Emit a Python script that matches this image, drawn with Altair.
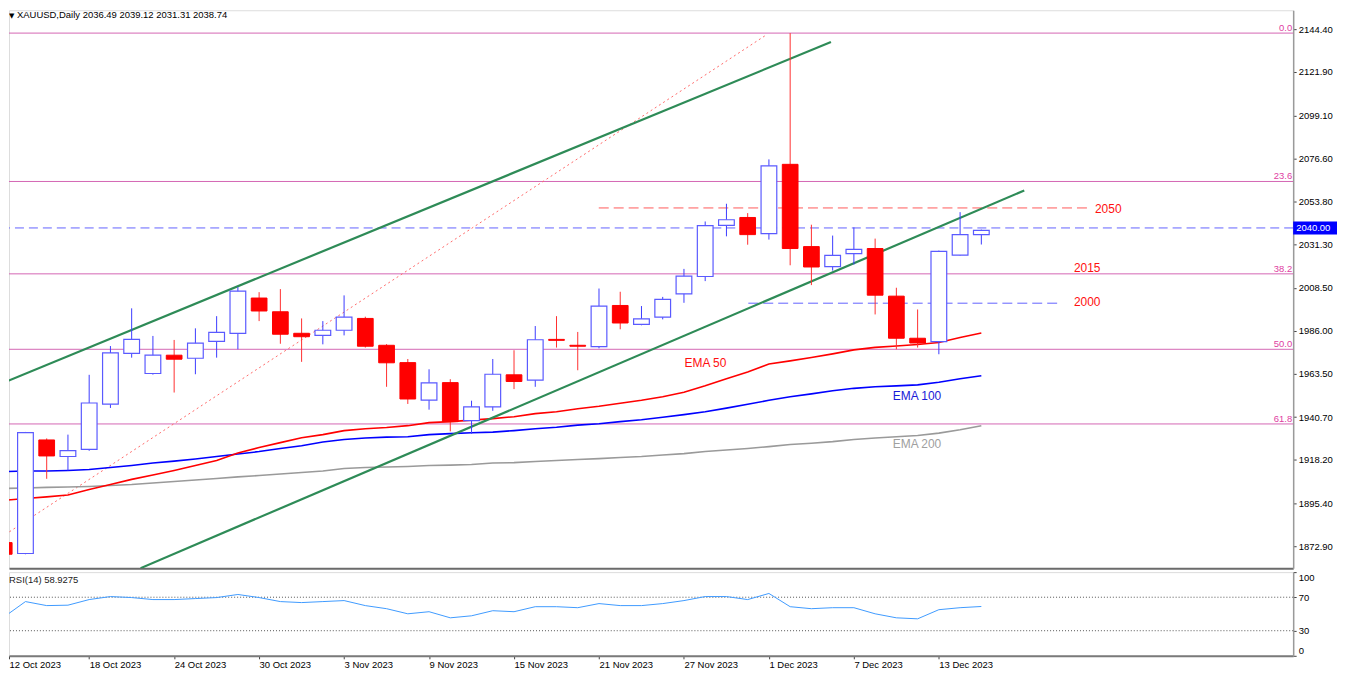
import json
import altair as alt
import pandas as pd

# ---------------- data ----------------
tick_labels = ["12 Oct 2023", "18 Oct 2023", "24 Oct 2023", "30 Oct 2023", "3 Nov 2023",
               "9 Nov 2023", "15 Nov 2023", "21 Nov 2023", "27 Nov 2023", "1 Dec 2023",
               "7 Dec 2023", "13 Dec 2023"]
tick_index = [0, 4, 8, 12, 16, 20, 24, 28, 32, 36, 40, 44]

opens = [1874.8, 1869.1, 1928.7, 1920.0, 1923.8, 1947.5, 1974.2, 1963.6, 1973.2, 1971.6,
         1980.5, 1984.7, 2003.2, 1996.0, 1984.7, 1983.6, 1986.3, 1992.5, 1978.4, 1969.3,
         1949.6, 1958.8, 1938.8, 1946.1, 1962.9, 1960.1, 1981.5, 1978.4, 1977.7, 1999.3,
         1989.4, 1993.2, 2005.4, 2014.5, 2041.4, 2045.5, 2037.0, 2073.4, 2030.2, 2019.7,
         2026.5, 2029.2, 2004.2, 1982.1, 1980.3, 2025.7, 2036.49]
highs = [1885.1, 1932.9, 1929.5, 1931.5, 1962.9, 1978.0, 1997.8, 1983.3, 1981.2, 1987.3,
         1993.7, 2008.9, 2006.3, 2007.9, 1992.5, 1991.1, 2004.6, 1993.4, 1979.0, 1971.2,
         1965.8, 1960.6, 1949.3, 1971.2, 1975.8, 1988.5, 1993.7, 1985.4, 2008.2, 2006.5,
         1999.0, 2003.8, 2018.5, 2043.4, 2052.7, 2047.8, 2076.0, 2142.3, 2041.7, 2036.0,
         2040.3, 2034.4, 2008.6, 1997.2, 2028.1, 2048.3, 2039.12]
lows = [1868.0, 1868.7, 1908.3, 1912.7, 1923.0, 1945.5, 1971.9, 1963.0, 1953.6, 1963.2,
        1971.9, 1976.3, 1991.1, 1979.2, 1969.7, 1978.9, 1983.6, 1977.2, 1956.6, 1947.6,
        1944.6, 1933.2, 1931.9, 1944.0, 1955.4, 1956.6, 1977.2, 1965.3, 1976.8, 1986.8,
        1988.9, 1992.0, 2000.7, 2012.1, 2035.6, 2031.2, 2033.9, 2020.4, 2010.0, 2017.6,
        2020.8, 1994.6, 1976.3, 1977.2, 1973.7, 2025.5, 2031.31]
closes = [1868.7, 1932.5, 1920.3, 1923.1, 1948.1, 1974.4, 1981.5, 1973.2, 1971.1, 1979.5,
          1985.2, 2006.8, 1996.4, 1984.2, 1982.9, 1986.3, 1993.2, 1977.9, 1969.2, 1950.2,
          1958.7, 1938.3, 1946.1, 1963.2, 1959.4, 1981.3, 1981.0, 1977.9, 1999.0, 1990.1,
          1992.3, 2002.5, 2014.7, 2041.2, 2044.3, 2036.5, 2072.6, 2029.2, 2019.5, 2025.6,
          2028.8, 2004.7, 1982.1, 1979.6, 2027.7, 2036.5, 2038.74]

ema50 = [1897.0, 1898.0, 1898.8, 1899.8, 1902.7, 1905.3, 1908.0, 1910.3, 1912.7, 1915.3,
         1917.9, 1921.8, 1924.7, 1927.3, 1929.9, 1931.5, 1933.6, 1934.6, 1935.2, 1936.2,
         1937.8, 1938.3, 1939.1, 1939.9, 1940.9, 1942.5, 1943.5, 1945.1, 1946.4, 1948.0,
         1949.5, 1951.4, 1953.7, 1957.1, 1960.8, 1964.4, 1968.6, 1970.2, 1972.0, 1973.9,
         1976.0, 1977.3, 1978.0, 1978.8, 1979.9, 1982.5, 1984.8]
ema100 = [1912.1, 1912.4, 1912.4, 1912.7, 1913.2, 1914.2, 1915.3, 1916.6, 1917.6, 1918.7,
          1920.0, 1921.3, 1922.6, 1924.2, 1925.7, 1927.6, 1928.9, 1929.7, 1930.2, 1930.4,
          1931.5, 1932.0, 1932.5, 1932.8, 1933.6, 1934.6, 1935.4, 1936.5, 1937.2, 1938.3,
          1939.3, 1940.6, 1942.0, 1943.5, 1945.4, 1947.4, 1949.5, 1951.4, 1952.9, 1954.5,
          1955.8, 1956.6, 1957.1, 1957.6, 1959.0, 1960.8, 1962.4]
ema200 = [1903.2, 1903.5, 1903.8, 1904.0, 1904.3, 1904.8, 1905.3, 1906.1, 1906.9, 1907.7,
          1908.5, 1909.3, 1910.0, 1910.8, 1911.6, 1912.4, 1913.7, 1914.2, 1914.5, 1914.8,
          1915.3, 1915.5, 1915.8, 1916.6, 1916.8, 1917.4, 1917.9, 1918.4, 1918.9, 1919.5,
          1920.0, 1920.8, 1921.5, 1922.6, 1923.4, 1924.2, 1925.2, 1926.3, 1927.0, 1927.8,
          1928.9, 1929.7, 1930.4, 1931.0, 1932.3, 1934.1, 1936.2]

rsi = [46.6, 64.8, 60.0, 60.5, 67.2, 70.8, 69.6, 67.2, 67.2, 68.4,
       69.6, 73.3, 69.6, 64.8, 63.6, 64.8, 66.0, 60.0, 56.3, 50.2,
       52.7, 45.4, 47.8, 53.9, 52.7, 58.7, 58.7, 57.5, 62.4, 60.0,
       60.0, 62.4, 66.0, 70.8, 70.8, 67.2, 74.5, 58.7, 56.3, 57.5,
       57.5, 50.2, 45.4, 44.2, 55.1, 57.5, 58.93]
rsi_levels = [70, 30]
rsi_ticks = [0, 30, 70, 100]

price_ticks = [2144.40, 2121.90, 2099.10, 2076.60, 2053.80, 2031.30, 2008.50, 1986.00,
               1963.50, 1940.70, 1918.20, 1895.40, 1872.90]

fib_levels = [2142.3, 2064.4, 2015.9, 1976.3, 1937.1]
fib_names = ["0.0", "23.6", "38.2", "50.0", "61.8"]

# trend lines: (bar index, price)
upper_x = [-0.15, 38.92]
upper_p = [1958.2, 2137.6]
lower_x = [6.42, 48.02]
lower_p = [1861.4, 2059.7]
diag_x = [-0.15, 35.87]
diag_p = [1877.6, 2141.3]

level_2040 = [2040.0]
seg_red_x = [27.99, 50.98]
seg_red_p = 2050.5
seg_blue_x = [35.03, 49.80]
seg_blue_p = 2000.5

note_text = ["2050", "2015", "2000", "EMA 50", "EMA 100", "EMA 200"]
note_x = [51.35, 50.36, 50.36, 32.03, 41.83, 41.83]
note_p = [2050.2, 2018.9, 2001.1, 1969.2, 1951.9, 1926.8]
note_color = ["#ff1010", "#ff1010", "#ff1010", "#ff1010", "#1a1ad8", "#a0a0a0"]

title_text = "XAUUSD,Daily  2036.49 2039.12 2031.31 2038.74"
rsi_text = "RSI(14) 58.9275"
last_price = ["2040.00"]

# ---------------- layout ----------------
W, H, H2 = 1289, 560, 84
X_MIN, X_MAX = 0.225, 60.68
Y_MIN, Y_MAX = 1861.4, 2154.3
FONT = "Liberation Sans"

xs = alt.Scale(domain=[X_MIN, X_MAX], nice=False, zero=False)
ys = alt.Scale(domain=[Y_MIN, Y_MAX], nice=False, zero=False)
rs = alt.Scale(domain=[0, 100], nice=False, zero=False)

price_xaxis = alt.Axis(labels=False, ticks=False, grid=False, title=None,
                       domainColor="#6b6b6b", domainWidth=2)
price_yaxis = alt.Axis(orient="right", values=price_ticks, format=".2f", grid=False, title=None,
                       domainColor="#9a9a9a", domainWidth=1.5, tickColor="#444", tickSize=3,
                       labelPadding=2, labelFontSize=9.5, labelColor="#000", labelFont=FONT,
                       labelOverlap=False, labelBound=False)
xvals = [max(v, X_MIN) for v in tick_index]
rsi_xaxis = alt.Axis(values=xvals, labelExpr=json.dumps(tick_labels) + "[round(datum.value/4)]",
                     labelAlign="left", labelBaseline="top", labelPadding=1, tickSize=3,
                     tickColor="#444", domainColor="#7a7a7a", domainWidth=2, grid=False,
                     title=None, labelFontSize=9.5, labelColor="#000", labelFont=FONT,
                     labelOverlap=False, labelFlush=False, labelBound=False)
rsi_yaxis = alt.Axis(orient="right", values=rsi_ticks, grid=False, title=None,
                     domainColor="#9a9a9a", domainWidth=1.5, tickSize=3, tickColor="#444",
                     labelPadding=2, labelFontSize=9.5, labelFlush=True, labelColor="#000",
                     labelFont=FONT)


def X(f):
    return alt.X(f, type="quantitative", scale=xs, axis=price_xaxis)


def Y(f):
    return alt.Y(f, type="quantitative", scale=ys, axis=price_yaxis)


n = len(opens)
cdf = pd.DataFrame({"i": list(range(n)), "open": opens, "high": highs, "low": lows,
                    "close": closes})
edf = pd.DataFrame({"i": list(range(n)), "e50": ema50, "e100": ema100, "e200": ema200,
                    "rsi": rsi})

layers = []

# fib levels
fdf = pd.DataFrame({"level": fib_levels, "name": fib_names})
layers.append(alt.Chart(fdf).mark_rule(color="#d466b4", strokeWidth=1).encode(y=Y("level")))
layers.append(alt.Chart(fdf).mark_text(align="right", baseline="bottom", fontSize=9.5,
                                       font=FONT, color="#e0409f")
              .encode(x=alt.value(W - 1), y=Y("level"), text="name:N"))

# horizontal dashed levels
layers.append(alt.Chart(pd.DataFrame({"v": level_2040}))
              .mark_rule(color="#6262ff", strokeDash=[9, 5], strokeWidth=1).encode(y=Y("v")))
layers.append(alt.Chart(pd.DataFrame({"x": [seg_red_x[0]], "x2": [seg_red_x[1]], "v": [seg_red_p]}))
              .mark_rule(color="#ff5a5a", strokeDash=[10, 5], strokeWidth=1)
              .encode(x=X("x"), x2="x2:Q", y=Y("v")))
layers.append(alt.Chart(pd.DataFrame({"x": [seg_blue_x[0]], "x2": [seg_blue_x[1]], "v": [seg_blue_p]}))
              .mark_rule(color="#6262ff", strokeDash=[10, 5], strokeWidth=1)
              .encode(x=X("x"), x2="x2:Q", y=Y("v")))

# dotted fib connector
layers.append(alt.Chart(pd.DataFrame({"x": diag_x, "p": diag_p}))
              .mark_line(color="#ff6a6a", strokeDash=[2, 3], strokeWidth=1, clip=True)
              .encode(x=X("x"), y=Y("p")))

# EMA lines
for col, colr in [("e200", "#9a9a9a"), ("e100", "#0000ff"), ("e50", "#ff0000")]:
    layers.append(alt.Chart(edf).mark_line(color=colr, strokeWidth=1.6, clip=True)
                  .encode(x=X("i"), y=Y(col)))

# green channel lines
for xx, pp in [(upper_x, upper_p), (lower_x, lower_p)]:
    layers.append(alt.Chart(pd.DataFrame({"x": xx, "p": pp}))
                  .mark_line(color="#2e8b57", strokeWidth=2.2, clip=True)
                  .encode(x=X("x"), y=Y("p")))

# annotations
for t, xx, pp, cc in zip(note_text, note_x, note_p, note_color):
    layers.append(alt.Chart(pd.DataFrame({"x": [xx], "p": [pp], "t": [t]}))
                  .mark_text(align="left", baseline="middle", fontSize=12, font=FONT, color=cc)
                  .encode(x=X("x"), y=Y("p"), text="t:N"))

# candles
base = alt.Chart(cdf).transform_calculate(
    lo="min(datum.open, datum.close)", hi="max(datum.open, datum.close)",
    x0="datum.i - 0.37", x1="datum.i + 0.37")
up = base.transform_filter("datum.close >= datum.open")
dn = base.transform_filter("datum.close < datum.open")
layers.append(up.mark_rule(color="#3c3cff", strokeWidth=1, clip=True)
              .encode(x=X("i"), y=Y("low"), y2="high:Q"))
layers.append(dn.mark_rule(color="#ff3030", strokeWidth=1, clip=True)
              .encode(x=X("i"), y=Y("low"), y2="high:Q"))
layers.append(up.mark_rect(fill="#ffffff", stroke="#5a5aff", strokeWidth=1.2, clip=True)
              .encode(x=X("x0"), x2="x1:Q", y=Y("lo"), y2="hi:Q"))
layers.append(dn.mark_rect(fill="#ff0000", stroke="#ff0000", strokeWidth=1, clip=True)
              .encode(x=X("x0"), x2="x1:Q", y=Y("lo"), y2="hi:Q"))

# title
layers.append(alt.Chart(pd.DataFrame({"t": ["\u25bc"]}))
              .mark_text(align="left", baseline="top", fontSize=7, font="DejaVu Sans",
                         color="#000", clip=True)
              .encode(x=alt.value(0), y=alt.value(2), text="t:N"))
layers.append(alt.Chart(pd.DataFrame({"t": [title_text]}))
              .mark_text(align="left", baseline="top", fontSize=9.5, font=FONT, color="#000",
                         clip=True)
              .encode(x=alt.value(8), y=alt.value(0), text="t:N"))

# last price box on axis
pb = pd.DataFrame({"v": level_2040, "t": last_price})
layers.append(alt.Chart(pb).mark_point(shape="M-1,-0.3H1V0.3H-1Z", size=44 * 44, filled=True,
                                       color="#0000ff", opacity=1, strokeWidth=0)
              .encode(x=alt.value(W + 22), y=Y("v")))
layers.append(alt.Chart(pb).mark_text(align="left", baseline="middle", fontSize=9.5, font=FONT,
                                      color="#ffffff")
              .encode(x=alt.value(W + 3), y=Y("v"), text="t:N"))

price = alt.layer(*layers).properties(width=W, height=H)

# ---------------- RSI panel ----------------
def XR(f):
    return alt.X(f, type="quantitative", scale=xs, axis=rsi_xaxis)


def YR(f):
    return alt.Y(f, type="quantitative", scale=rs, axis=rsi_yaxis)


rl = alt.Chart(pd.DataFrame({"v": rsi_levels})).mark_rule(
    color="#555555", strokeDash=[1, 2], strokeWidth=1).encode(y=YR("v"))
rline = alt.Chart(edf).mark_line(color="#3f9bff", strokeWidth=1, clip=True).encode(
    x=XR("i"), y=YR("rsi"))
rtxt = alt.Chart(pd.DataFrame({"t": [rsi_text]})).mark_text(
    align="left", baseline="middle", fontSize=9.5, font=FONT, color="#222").encode(
    x=alt.value(0), y=alt.value(8), text="t:N")
rsi_panel = alt.layer(rl, rline, rtxt).properties(width=W, height=H2)

chart = alt.vconcat(price, rsi_panel, spacing=2).properties(
    padding={"left": 0, "top": 0, "right": 0, "bottom": 0}
).configure_view(stroke=None).configure(background="#ffffff")

chart.save("out.html", embed_options={"renderer": "svg", "actions": False})
